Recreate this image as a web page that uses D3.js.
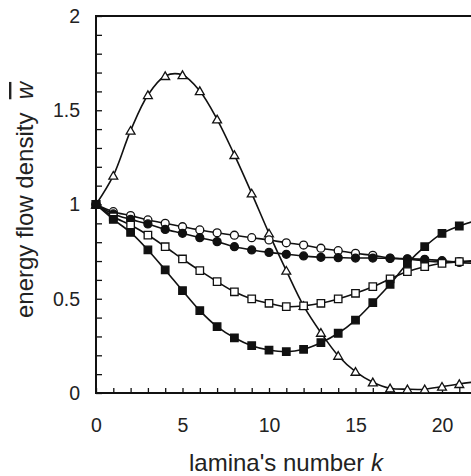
<!DOCTYPE html>
<html>
<head>
<meta charset="utf-8">
<script src="https://cdn.jsdelivr.net/npm/d3@7"></script>
<style>
  body { margin: 0; background: #fff; }
  text { font-family: Arial, "Liberation Sans", sans-serif; fill: #222; }
</style>
</head>
<body>
<div id="chart-area"></div>
<script>
// lamina index k (k = 22 lies just past the right edge of the picture)
const lamina = d3.range(0, 23)

// energy flow density for the five cases
const openTriangles = [1, 1.153, 1.392, 1.581, 1.682, 1.687, 1.602, 1.452, 1.263, 1.059,
  0.847, 0.649, 0.462, 0.32, 0.198, 0.113, 0.057, 0.025, 0.02, 0.02, 0.034, 0.048, 0.06]
const openCircles = [1, 0.962, 0.941, 0.918, 0.9, 0.882, 0.865, 0.85, 0.837, 0.824,
  0.812, 0.797, 0.785, 0.768, 0.755, 0.741, 0.73, 0.716, 0.71, 0.7, 0.695, 0.697, 0.695]
const filledCircles = [1, 0.95, 0.921, 0.897, 0.868, 0.847, 0.824, 0.803, 0.776, 0.759,
  0.746, 0.736, 0.727, 0.72, 0.718, 0.716, 0.716, 0.714, 0.712, 0.709, 0.702, 0.693, 0.686]
const openSquares = [1, 0.935, 0.891, 0.838, 0.776, 0.711, 0.649, 0.591, 0.537, 0.499,
  0.476, 0.458, 0.462, 0.476, 0.499, 0.529, 0.564, 0.605, 0.644, 0.67, 0.688, 0.697, 0.703]
const filledSquares = [1, 0.921, 0.852, 0.759, 0.653, 0.543, 0.437, 0.352, 0.293, 0.251,
  0.228, 0.219, 0.232, 0.267, 0.317, 0.387, 0.479, 0.577, 0.688, 0.776, 0.847, 0.886, 0.915]

const xTickLabels = [0, 5, 10, 15, 20]
const yTickLabels = [0, 0.5, 1, 1.5, 2]

const MARGIN = { LEFT: 96, TOP: 16 }
const PLOT_W = 432.5
const PLOT_H = 377

const svg = d3.select("#chart-area").append("svg")
  .attr("width", 471)
  .attr("height", 476)

const g = svg.append("g")
  .attr("transform", `translate(${MARGIN.LEFT}, ${MARGIN.TOP})`)

const x = d3.scaleLinear().domain([0, 25]).range([0, PLOT_W])
const y = d3.scaleLinear().domain([0, 2]).range([PLOT_H, 0])

// minor ticks, pointing inwards
g.append("g")
  .attr("transform", `translate(0, ${PLOT_H})`)
  .call(d3.axisBottom(x).tickValues(d3.range(0, 26)).tickSize(-5).tickFormat(""))
g.append("g")
  .call(d3.axisLeft(y).tickValues(d3.range(0, 21).map(d => d / 10)).tickSize(-6).tickFormat(""))

// tick labels
g.append("g")
  .attr("class", "xlab")
  .attr("transform", `translate(0, ${PLOT_H})`)
  .call(d3.axisBottom(x).tickValues(xTickLabels).tickSize(0).tickPadding(25).tickFormat(d => d))
g.append("g")
  .attr("class", "ylab")
  .call(d3.axisLeft(y).tickValues(yTickLabels).tickSize(0).tickPadding(16).tickFormat(d => d))

g.selectAll(".xlab .domain, .ylab .domain").remove()
g.selectAll(".tick line").attr("stroke", "#111").attr("stroke-width", 1.3)
g.selectAll(".domain").attr("stroke", "none")
g.selectAll(".xlab text, .ylab text")
  .attr("fill", "#222")
  .style("font-size", "19.5px")
  .style("font-family", "Arial, 'Liberation Sans', sans-serif")

// frame
g.append("rect")
  .attr("width", PLOT_W)
  .attr("height", PLOT_H)
  .attr("fill", "none")
  .attr("stroke", "#111")
  .attr("stroke-width", 2)

const series = [
  { values: openTriangles, shape: "triangle", fill: "#fff" },
  { values: openCircles, shape: "circle", fill: "#fff" },
  { values: filledCircles, shape: "circle", fill: "#111" },
  { values: openSquares, shape: "square", fill: "#fff" },
  { values: filledSquares, shape: "square", fill: "#111" }
]

const line = d3.line()
  .x(d => x(d.k))
  .y(d => y(d.v))
  .curve(d3.curveCatmullRom)

series.forEach(s => {
  const pts = lamina.map((k, i) => ({ k: k, v: s.values[i] }))
  g.append("path")
    .datum(pts)
    .attr("fill", "none")
    .attr("stroke", "#111")
    .attr("stroke-width", 1.6)
    .attr("d", line)
})

series.forEach(s => {
  const pts = lamina.map((k, i) => ({ k: k, v: s.values[i] }))
  const sym = s.shape === "triangle" ? d3.symbolTriangle
    : s.shape === "circle" ? d3.symbolCircle : d3.symbolSquare
  const size = s.shape === "triangle" ? 34 : s.shape === "circle" ? 50 : 56
  g.selectAll(null)
    .data(pts)
    .enter().append("path")
    .attr("transform", d => `translate(${x(d.k)}, ${y(d.v) + (s.shape === "triangle" ? 1 : 0)})`)
    .attr("d", d3.symbol().type(sym).size(size))
    .attr("fill", s.fill)
    .attr("stroke", "#111")
    .attr("stroke-width", 1.3)
})

// axis titles
svg.append("text")
  .attr("x", 286)
  .attr("y", 471)
  .attr("text-anchor", "middle")
  .style("font-size", "24px")
  .text("lamina's number ")
  .append("tspan")
  .style("font-style", "italic")
  .text("k")

const yTitle = svg.append("text")
  .attr("transform", "translate(33, 200) rotate(-90)")
  .attr("text-anchor", "middle")
  .style("font-size", "24px")
  .attr("xml:space", "preserve")
yTitle.append("tspan").text("energy flow density  ")
yTitle.append("tspan")
  .style("font-style", "italic")
  .style("text-decoration", "overline")
  .text("w")
</script>
</body>
</html>
